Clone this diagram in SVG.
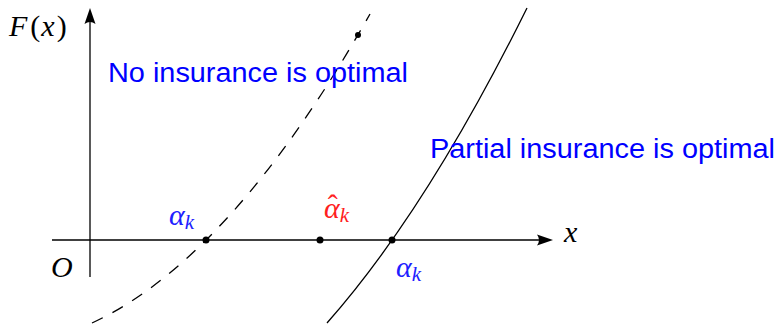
<svg xmlns="http://www.w3.org/2000/svg" width="778" height="325" viewBox="0 0 778 325">
<style>
.ax{stroke:#000;stroke-width:1.3;fill:none}
.cv{stroke:#000;stroke-width:1.3;fill:none}
.dash{stroke-dasharray:12 11}
.head{fill:#000;stroke:none}
.dot{fill:#000}
.math{font-family:"Liberation Serif","DejaVu Serif",serif;font-style:italic;font-size:30px}
.up{font-style:normal}
.sub{font-size:21px}
.lbl{font-family:"Liberation Sans",Arial,sans-serif;font-size:27px;fill:#0000ff}
.blue{fill:#2020ff}
.red{fill:#ff2020}
</style>
<g id="connectors">
<g id="x-axis">
<line class="ax" x1="52" y1="240" x2="545" y2="240"/>
<path class="head" d="M553,240 L537,234.5 Q541,240 537,245.5 Z"/>
</g>
<g id="y-axis">
<line class="ax" x1="90" y1="277" x2="90" y2="16"/>
<path class="head" d="M90,8 L84.5,24 Q90,20 95.5,24 Z"/>
</g>
<path id="curve-dashed" class="cv dash" d="M92,323 Q231,259 370,14"/>
<path id="curve-solid" class="cv" d="M327,323 Q427,210 527,8"/>
</g>
<g id="points">
<circle class="dot" cx="206" cy="240" r="3.5"/>
<circle class="dot" cx="320" cy="240" r="3.5"/>
<circle class="dot" cx="392" cy="240" r="3.5"/>
<circle class="dot" cx="358" cy="35" r="3"/>
</g>
<g id="label-F">
<text class="math" x="9" y="36">F<tspan class="up" dx="3">(</tspan><tspan dx="1">x</tspan><tspan class="up" dx="2">)</tspan></text>
</g>
<g id="label-O"><text class="math" x="51" y="277">O</text></g>
<g id="label-x"><text class="math" x="564" y="242">x</text></g>
<g id="label-alpha-left"><text class="math blue" x="169" y="225">α<tspan class="sub" dy="4">k</tspan></text></g>
<g id="label-alpha-right"><text class="math blue" x="396" y="277">α<tspan class="sub" dy="4">k</tspan></text></g>
<g id="label-alpha-hat"><text class="math red" x="324" y="218">α<tspan class="up" dx="-12" dy="-3">ˆ</tspan><tspan class="sub" dx="2" dy="7">k</tspan></text></g>
<g id="text-no"><text class="lbl" x="108" y="82" textLength="300" lengthAdjust="spacingAndGlyphs">No insurance is optimal</text></g>
<g id="text-partial"><text class="lbl" x="430" y="158" textLength="345" lengthAdjust="spacingAndGlyphs">Partial insurance is optimal</text></g>
</svg>
